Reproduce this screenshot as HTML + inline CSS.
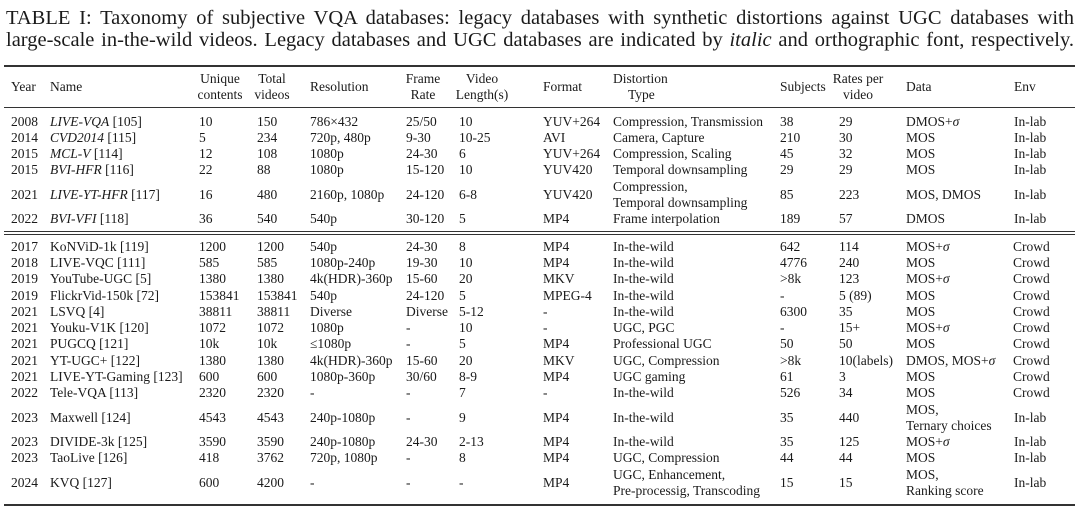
<!DOCTYPE html>
<html><head><meta charset="utf-8"><style>
body{margin:0;width:1080px;height:511px;background:#fff;position:relative;overflow:hidden;font-family:"Liberation Serif",serif;color:#1a1a1a}
.c{position:absolute;font-size:13.5px;line-height:16px;white-space:nowrap}
.h{position:absolute;font-size:13.5px;line-height:16px;white-space:nowrap;transform:translateX(-50%)}
.r{position:absolute;left:4px;width:1071px;background:#333}
.cap{position:absolute;left:6px;width:1068px;font-size:20.5px;line-height:22px;text-align:justify;text-align-last:justify;white-space:nowrap}
i{font-style:italic}
</style></head><body>
<div class="cap" style="top:7px">TABLE I: Taxonomy of subjective VQA databases: legacy databases with synthetic distortions against UGC databases with</div>
<div class="cap" style="top:29px">large-scale in-the-wild videos. Legacy databases and UGC databases are indicated by <i>italic</i> and orthographic font, respectively.</div>
<div class="r" style="top:65px;height:1.5px"></div>
<div class="r" style="top:107px;height:1px"></div>
<div class="r" style="top:231px;height:1px"></div>
<div class="r" style="top:234px;height:1px"></div>
<div class="r" style="top:504px;height:1.5px"></div>

<div class="c" style="left:11px;top:79px">Year</div>
<div class="c" style="left:50px;top:79px">Name</div>
<div class="h" style="left:220px;top:71px">Unique</div>
<div class="h" style="left:220px;top:87px">contents</div>
<div class="h" style="left:272px;top:71px">Total</div>
<div class="h" style="left:272px;top:87px">videos</div>
<div class="c" style="left:310px;top:79px">Resolution</div>
<div class="h" style="left:423px;top:71px">Frame</div>
<div class="h" style="left:423px;top:87px">Rate</div>
<div class="h" style="left:482px;top:71px">Video</div>
<div class="h" style="left:482px;top:87px">Length(s)</div>
<div class="c" style="left:543px;top:79px">Format</div>
<div class="c" style="left:613px;top:71px">Distortion</div>
<div class="c" style="left:628px;top:87px">Type</div>
<div class="c" style="left:780px;top:79px">Subjects</div>
<div class="h" style="left:858px;top:71px">Rates per</div>
<div class="h" style="left:858px;top:87px">video</div>
<div class="c" style="left:906px;top:79px">Data</div>
<div class="c" style="left:1014px;top:79px">Env</div>

<div class="c" style="left:11px;top:114px">2008</div><div class="c" style="left:50px;top:114px"><i>LIVE-VQA</i> [105]</div><div class="c" style="left:199px;top:114px">10</div><div class="c" style="left:257px;top:114px">150</div><div class="c" style="left:310px;top:114px">786×432</div><div class="c" style="left:406px;top:114px">25/50</div><div class="c" style="left:459px;top:114px">10</div><div class="c" style="left:543px;top:114px">YUV+264</div><div class="c" style="left:613px;top:114px">Compression, Transmission</div><div class="c" style="left:780px;top:114px">38</div><div class="c" style="left:839px;top:114px">29</div><div class="c" style="left:906px;top:114px">DMOS+<i>σ</i></div><div class="c" style="left:1014px;top:114px">In-lab</div>
<div class="c" style="left:11px;top:130px">2014</div><div class="c" style="left:50px;top:130px"><i>CVD2014</i> [115]</div><div class="c" style="left:199px;top:130px">5</div><div class="c" style="left:257px;top:130px">234</div><div class="c" style="left:310px;top:130px">720p, 480p</div><div class="c" style="left:406px;top:130px">9-30</div><div class="c" style="left:459px;top:130px">10-25</div><div class="c" style="left:543px;top:130px">AVI</div><div class="c" style="left:613px;top:130px">Camera, Capture</div><div class="c" style="left:780px;top:130px">210</div><div class="c" style="left:839px;top:130px">30</div><div class="c" style="left:906px;top:130px">MOS</div><div class="c" style="left:1014px;top:130px">In-lab</div>
<div class="c" style="left:11px;top:146px">2015</div><div class="c" style="left:50px;top:146px"><i>MCL-V</i> [114]</div><div class="c" style="left:199px;top:146px">12</div><div class="c" style="left:257px;top:146px">108</div><div class="c" style="left:310px;top:146px">1080p</div><div class="c" style="left:406px;top:146px">24-30</div><div class="c" style="left:459px;top:146px">6</div><div class="c" style="left:543px;top:146px">YUV+264</div><div class="c" style="left:613px;top:146px">Compression, Scaling</div><div class="c" style="left:780px;top:146px">45</div><div class="c" style="left:839px;top:146px">32</div><div class="c" style="left:906px;top:146px">MOS</div><div class="c" style="left:1014px;top:146px">In-lab</div>
<div class="c" style="left:11px;top:162px">2015</div><div class="c" style="left:50px;top:162px"><i>BVI-HFR</i> [116]</div><div class="c" style="left:199px;top:162px">22</div><div class="c" style="left:257px;top:162px">88</div><div class="c" style="left:310px;top:162px">1080p</div><div class="c" style="left:406px;top:162px">15-120</div><div class="c" style="left:459px;top:162px">10</div><div class="c" style="left:543px;top:162px">YUV420</div><div class="c" style="left:613px;top:162px">Temporal downsampling</div><div class="c" style="left:780px;top:162px">29</div><div class="c" style="left:839px;top:162px">29</div><div class="c" style="left:906px;top:162px">MOS</div><div class="c" style="left:1014px;top:162px">In-lab</div>
<div class="c" style="left:11px;top:187px">2021</div><div class="c" style="left:50px;top:187px"><i>LIVE-YT-HFR</i> [117]</div><div class="c" style="left:199px;top:187px">16</div><div class="c" style="left:257px;top:187px">480</div><div class="c" style="left:310px;top:187px">2160p, 1080p</div><div class="c" style="left:406px;top:187px">24-120</div><div class="c" style="left:459px;top:187px">6-8</div><div class="c" style="left:543px;top:187px">YUV420</div><div class="c" style="left:613px;top:179px">Compression,</div><div class="c" style="left:613px;top:195px">Temporal downsampling</div><div class="c" style="left:780px;top:187px">85</div><div class="c" style="left:839px;top:187px">223</div><div class="c" style="left:906px;top:187px">MOS, DMOS</div><div class="c" style="left:1014px;top:187px">In-lab</div>
<div class="c" style="left:11px;top:211px">2022</div><div class="c" style="left:50px;top:211px"><i>BVI-VFI</i> [118]</div><div class="c" style="left:199px;top:211px">36</div><div class="c" style="left:257px;top:211px">540</div><div class="c" style="left:310px;top:211px">540p</div><div class="c" style="left:406px;top:211px">30-120</div><div class="c" style="left:459px;top:211px">5</div><div class="c" style="left:543px;top:211px">MP4</div><div class="c" style="left:613px;top:211px">Frame interpolation</div><div class="c" style="left:780px;top:211px">189</div><div class="c" style="left:839px;top:211px">57</div><div class="c" style="left:906px;top:211px">DMOS</div><div class="c" style="left:1014px;top:211px">In-lab</div>

<div class="c" style="left:11px;top:239px">2017</div><div class="c" style="left:50px;top:239px">KoNViD-1k [119]</div><div class="c" style="left:199px;top:239px">1200</div><div class="c" style="left:257px;top:239px">1200</div><div class="c" style="left:310px;top:239px">540p</div><div class="c" style="left:406px;top:239px">24-30</div><div class="c" style="left:459px;top:239px">8</div><div class="c" style="left:543px;top:239px">MP4</div><div class="c" style="left:613px;top:239px">In-the-wild</div><div class="c" style="left:780px;top:239px">642</div><div class="c" style="left:839px;top:239px">114</div><div class="c" style="left:906px;top:239px">MOS+<i>σ</i></div><div class="c" style="left:1013px;top:239px">Crowd</div>
<div class="c" style="left:11px;top:255px">2018</div><div class="c" style="left:50px;top:255px">LIVE-VQC [111]</div><div class="c" style="left:199px;top:255px">585</div><div class="c" style="left:257px;top:255px">585</div><div class="c" style="left:310px;top:255px">1080p-240p</div><div class="c" style="left:406px;top:255px">19-30</div><div class="c" style="left:459px;top:255px">10</div><div class="c" style="left:543px;top:255px">MP4</div><div class="c" style="left:613px;top:255px">In-the-wild</div><div class="c" style="left:780px;top:255px">4776</div><div class="c" style="left:839px;top:255px">240</div><div class="c" style="left:906px;top:255px">MOS</div><div class="c" style="left:1013px;top:255px">Crowd</div>
<div class="c" style="left:11px;top:271px">2019</div><div class="c" style="left:50px;top:271px">YouTube-UGC [5]</div><div class="c" style="left:199px;top:271px">1380</div><div class="c" style="left:257px;top:271px">1380</div><div class="c" style="left:310px;top:271px">4k(HDR)-360p</div><div class="c" style="left:406px;top:271px">15-60</div><div class="c" style="left:459px;top:271px">20</div><div class="c" style="left:543px;top:271px">MKV</div><div class="c" style="left:613px;top:271px">In-the-wild</div><div class="c" style="left:780px;top:271px">&gt;8k</div><div class="c" style="left:839px;top:271px">123</div><div class="c" style="left:906px;top:271px">MOS+<i>σ</i></div><div class="c" style="left:1013px;top:271px">Crowd</div>
<div class="c" style="left:11px;top:288px">2019</div><div class="c" style="left:50px;top:288px">FlickrVid-150k [72]</div><div class="c" style="left:199px;top:288px">153841</div><div class="c" style="left:257px;top:288px">153841</div><div class="c" style="left:310px;top:288px">540p</div><div class="c" style="left:406px;top:288px">24-120</div><div class="c" style="left:459px;top:288px">5</div><div class="c" style="left:543px;top:288px">MPEG-4</div><div class="c" style="left:613px;top:288px">In-the-wild</div><div class="c" style="left:780px;top:288px">-</div><div class="c" style="left:839px;top:288px">5 (89)</div><div class="c" style="left:906px;top:288px">MOS</div><div class="c" style="left:1013px;top:288px">Crowd</div>
<div class="c" style="left:11px;top:304px">2021</div><div class="c" style="left:50px;top:304px">LSVQ [4]</div><div class="c" style="left:199px;top:304px">38811</div><div class="c" style="left:257px;top:304px">38811</div><div class="c" style="left:310px;top:304px">Diverse</div><div class="c" style="left:406px;top:304px">Diverse</div><div class="c" style="left:459px;top:304px">5-12</div><div class="c" style="left:543px;top:304px">-</div><div class="c" style="left:613px;top:304px">In-the-wild</div><div class="c" style="left:780px;top:304px">6300</div><div class="c" style="left:839px;top:304px">35</div><div class="c" style="left:906px;top:304px">MOS</div><div class="c" style="left:1013px;top:304px">Crowd</div>
<div class="c" style="left:11px;top:320px">2021</div><div class="c" style="left:50px;top:320px">Youku-V1K [120]</div><div class="c" style="left:199px;top:320px">1072</div><div class="c" style="left:257px;top:320px">1072</div><div class="c" style="left:310px;top:320px">1080p</div><div class="c" style="left:406px;top:320px">-</div><div class="c" style="left:459px;top:320px">10</div><div class="c" style="left:543px;top:320px">-</div><div class="c" style="left:613px;top:320px">UGC, PGC</div><div class="c" style="left:780px;top:320px">-</div><div class="c" style="left:839px;top:320px">15+</div><div class="c" style="left:906px;top:320px">MOS+<i>σ</i></div><div class="c" style="left:1013px;top:320px">Crowd</div>
<div class="c" style="left:11px;top:336px">2021</div><div class="c" style="left:50px;top:336px">PUGCQ [121]</div><div class="c" style="left:199px;top:336px">10k</div><div class="c" style="left:257px;top:336px">10k</div><div class="c" style="left:310px;top:336px">≤1080p</div><div class="c" style="left:406px;top:336px">-</div><div class="c" style="left:459px;top:336px">5</div><div class="c" style="left:543px;top:336px">MP4</div><div class="c" style="left:613px;top:336px">Professional UGC</div><div class="c" style="left:780px;top:336px">50</div><div class="c" style="left:839px;top:336px">50</div><div class="c" style="left:906px;top:336px">MOS</div><div class="c" style="left:1013px;top:336px">Crowd</div>
<div class="c" style="left:11px;top:353px">2021</div><div class="c" style="left:50px;top:353px">YT-UGC+ [122]</div><div class="c" style="left:199px;top:353px">1380</div><div class="c" style="left:257px;top:353px">1380</div><div class="c" style="left:310px;top:353px">4k(HDR)-360p</div><div class="c" style="left:406px;top:353px">15-60</div><div class="c" style="left:459px;top:353px">20</div><div class="c" style="left:543px;top:353px">MKV</div><div class="c" style="left:613px;top:353px">UGC, Compression</div><div class="c" style="left:780px;top:353px">&gt;8k</div><div class="c" style="left:839px;top:353px">10(labels)</div><div class="c" style="left:906px;top:353px">DMOS, MOS+<i>σ</i></div><div class="c" style="left:1013px;top:353px">Crowd</div>
<div class="c" style="left:11px;top:369px">2021</div><div class="c" style="left:50px;top:369px">LIVE-YT-Gaming [123]</div><div class="c" style="left:199px;top:369px">600</div><div class="c" style="left:257px;top:369px">600</div><div class="c" style="left:310px;top:369px">1080p-360p</div><div class="c" style="left:406px;top:369px">30/60</div><div class="c" style="left:459px;top:369px">8-9</div><div class="c" style="left:543px;top:369px">MP4</div><div class="c" style="left:613px;top:369px">UGC gaming</div><div class="c" style="left:780px;top:369px">61</div><div class="c" style="left:839px;top:369px">3</div><div class="c" style="left:906px;top:369px">MOS</div><div class="c" style="left:1013px;top:369px">Crowd</div>
<div class="c" style="left:11px;top:385px">2022</div><div class="c" style="left:50px;top:385px">Tele-VQA [113]</div><div class="c" style="left:199px;top:385px">2320</div><div class="c" style="left:257px;top:385px">2320</div><div class="c" style="left:310px;top:385px">-</div><div class="c" style="left:406px;top:385px">-</div><div class="c" style="left:459px;top:385px">7</div><div class="c" style="left:543px;top:385px">-</div><div class="c" style="left:613px;top:385px">In-the-wild</div><div class="c" style="left:780px;top:385px">526</div><div class="c" style="left:839px;top:385px">34</div><div class="c" style="left:906px;top:385px">MOS</div><div class="c" style="left:1013px;top:385px">Crowd</div>
<div class="c" style="left:11px;top:410px">2023</div><div class="c" style="left:50px;top:410px">Maxwell [124]</div><div class="c" style="left:199px;top:410px">4543</div><div class="c" style="left:257px;top:410px">4543</div><div class="c" style="left:310px;top:410px">240p-1080p</div><div class="c" style="left:406px;top:410px">-</div><div class="c" style="left:459px;top:410px">9</div><div class="c" style="left:543px;top:410px">MP4</div><div class="c" style="left:613px;top:410px">In-the-wild</div><div class="c" style="left:780px;top:410px">35</div><div class="c" style="left:839px;top:410px">440</div><div class="c" style="left:906px;top:402px">MOS,</div><div class="c" style="left:906px;top:418px">Ternary choices</div><div class="c" style="left:1014px;top:410px">In-lab</div>
<div class="c" style="left:11px;top:434px">2023</div><div class="c" style="left:50px;top:434px">DIVIDE-3k [125]</div><div class="c" style="left:199px;top:434px">3590</div><div class="c" style="left:257px;top:434px">3590</div><div class="c" style="left:310px;top:434px">240p-1080p</div><div class="c" style="left:406px;top:434px">24-30</div><div class="c" style="left:459px;top:434px">2-13</div><div class="c" style="left:543px;top:434px">MP4</div><div class="c" style="left:613px;top:434px">In-the-wild</div><div class="c" style="left:780px;top:434px">35</div><div class="c" style="left:839px;top:434px">125</div><div class="c" style="left:906px;top:434px">MOS+<i>σ</i></div><div class="c" style="left:1014px;top:434px">In-lab</div>
<div class="c" style="left:11px;top:450px">2023</div><div class="c" style="left:50px;top:450px">TaoLive [126]</div><div class="c" style="left:199px;top:450px">418</div><div class="c" style="left:257px;top:450px">3762</div><div class="c" style="left:310px;top:450px">720p, 1080p</div><div class="c" style="left:406px;top:450px">-</div><div class="c" style="left:459px;top:450px">8</div><div class="c" style="left:543px;top:450px">MP4</div><div class="c" style="left:613px;top:450px">UGC, Compression</div><div class="c" style="left:780px;top:450px">44</div><div class="c" style="left:839px;top:450px">44</div><div class="c" style="left:906px;top:450px">MOS</div><div class="c" style="left:1014px;top:450px">In-lab</div>
<div class="c" style="left:11px;top:475px">2024</div><div class="c" style="left:50px;top:475px">KVQ [127]</div><div class="c" style="left:199px;top:475px">600</div><div class="c" style="left:257px;top:475px">4200</div><div class="c" style="left:310px;top:475px">-</div><div class="c" style="left:406px;top:475px">-</div><div class="c" style="left:459px;top:475px">-</div><div class="c" style="left:543px;top:475px">MP4</div><div class="c" style="left:613px;top:467px">UGC, Enhancement,</div><div class="c" style="left:613px;top:483px">Pre-processig, Transcoding</div><div class="c" style="left:780px;top:475px">15</div><div class="c" style="left:839px;top:475px">15</div><div class="c" style="left:906px;top:467px">MOS,</div><div class="c" style="left:906px;top:483px">Ranking score</div><div class="c" style="left:1014px;top:475px">In-lab</div>
</body></html>
